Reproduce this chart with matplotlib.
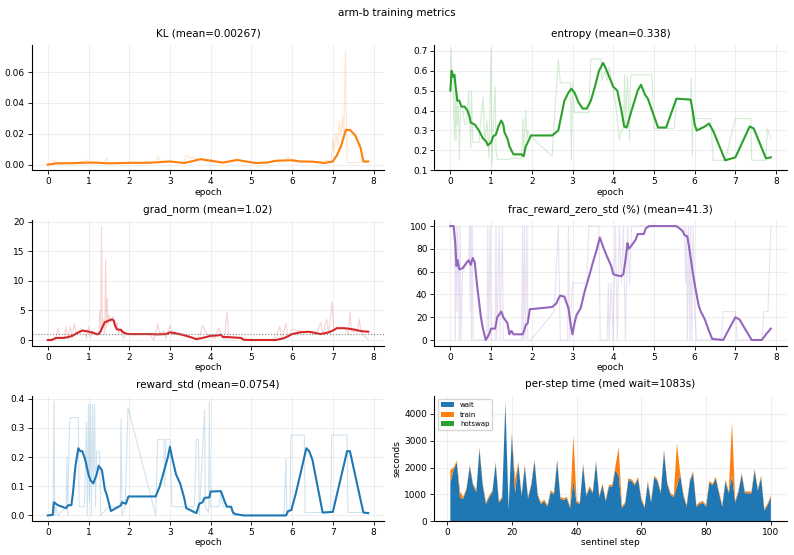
import numpy as np
import matplotlib
matplotlib.use("Agg")
import matplotlib.pyplot as plt
from matplotlib.ticker import MultipleLocator

# ---- data (epoch, value) ----
kl_raw = [(0.0,0.0),(0.1,0.001),(0.15,0.003),(0.2,0.001),(0.35,0.0015),(0.5,0.0012),(0.7,0.001),
          (0.85,0.0018),(0.95,0.003),(1.0,0.001),(1.1,0.002),(1.2,0.0015),(1.35,0.0008),(1.45,0.004),
          (1.5,0.001),(1.7,0.001),(1.9,0.0012),(2.1,0.0015),(2.3,0.0012),(2.5,0.0015),(2.65,0.0015),
          (2.7,0.005),(2.8,0.002),(3.0,0.0025),(3.2,0.0015),(3.35,0.001),(3.4,0.006),(3.5,0.004),
          (3.6,0.005),(3.7,0.003),(3.8,0.004),(3.9,0.002),(4.0,0.0035),(4.1,0.002),(4.3,0.001),
          (4.5,0.002),(4.6,0.0035),(4.7,0.0025),(4.9,0.002),(5.1,0.0008),(5.3,0.001),(5.5,0.0025),
          (5.7,0.002),(5.85,0.003),(5.9,0.005),(6.0,0.002),(6.2,0.0025),(6.5,0.002),(6.7,0.0015),
          (6.85,0.003),(6.95,0.001),(7.0,0.017),(7.03,0.008),(7.08,0.021),(7.12,0.012),(7.16,0.028),
          (7.2,0.018),(7.24,0.032),(7.27,0.02),(7.31,0.074),(7.35,0.0012),(7.5,0.0012),(7.7,0.0015),
          (7.87,0.002)]
kl_smooth = [(0.0,0.0),(0.1,0.0003),(0.2,0.0008),(0.6,0.0009),(1.0,0.0013),(1.2,0.0012),(1.5,0.0008),
             (2.0,0.0011),(2.5,0.0012),(3.0,0.002),(3.35,0.001),(3.75,0.0035),(4.0,0.0025),(4.3,0.0013),
             (4.65,0.003),(5.1,0.001),(5.4,0.0013),(5.6,0.0025),(6.0,0.0028),(6.2,0.002),(6.5,0.0019),
             (6.8,0.001),(7.0,0.002),(7.1,0.006),(7.2,0.012),(7.32,0.0225),(7.42,0.0225),(7.55,0.019),
             (7.68,0.011),(7.75,0.002),(7.87,0.002)]

ent_raw = [(0.0,0.5),(0.02,0.71),(0.04,0.55),(0.06,0.6),(0.08,0.42),(0.1,0.25),(0.12,0.5),(0.14,0.25),
           (0.16,0.5),(0.18,0.33),(0.2,0.42),(0.22,0.15),(0.25,0.42),(0.3,0.42),(0.35,0.33),(0.4,0.33),
           (0.45,0.5),(0.5,0.21),(0.52,0.5),(0.55,0.24),(0.6,0.24),(0.7,0.24),(0.8,0.47),(0.85,0.24),
           (0.9,0.35),(0.95,0.16),(1.0,0.71),(1.02,0.12),(1.05,0.3),(1.1,0.52),(1.12,0.2),(1.15,0.155),
           (1.3,0.155),(1.45,0.155),(1.5,0.16),(1.75,0.16),(1.78,0.36),(1.8,0.2),(1.85,0.4),(1.88,0.25),
           (1.9,0.3),(1.95,0.275),(2.5,0.17),(2.65,0.66),(2.7,0.54),(2.95,0.54),(2.97,0.15),(3.0,0.54),
           (3.02,0.45),(3.05,0.39),(3.4,0.39),(3.45,0.66),(3.7,0.66),(3.72,0.55),(3.8,0.6),(3.85,0.55),
           (3.9,0.62),(4.0,0.5),(4.05,0.45),(4.1,0.35),(4.15,0.25),(4.2,0.3),(4.25,0.31),(4.28,0.58),
           (4.3,0.31),(4.35,0.57),(4.4,0.25),(4.42,0.55),(4.45,0.58),(4.5,0.58),(4.95,0.58),(5.0,0.31),
           (5.5,0.31),(5.55,0.46),(5.9,0.46),(5.92,0.56),(5.94,0.17),(5.96,0.4),(6.0,0.36),(6.4,0.36),
           (6.45,0.15),(6.75,0.15),(7.0,0.36),(7.38,0.36),(7.4,0.15),(7.75,0.15),(7.78,0.31),(7.87,0.26)]
ent_smooth = [(0.0,0.5),(0.03,0.6),(0.07,0.57),(0.1,0.58),(0.13,0.52),(0.17,0.45),(0.22,0.45),
              (0.27,0.42),(0.35,0.42),(0.42,0.4),(0.47,0.37),(0.5,0.34),(0.6,0.33),(0.7,0.3),
              (0.8,0.26),(0.88,0.245),(0.92,0.225),(1.0,0.24),(1.05,0.27),(1.12,0.28),(1.18,0.32),
              (1.25,0.35),(1.3,0.33),(1.33,0.29),(1.4,0.26),(1.45,0.22),(1.5,0.2),(1.55,0.18),
              (1.75,0.18),(1.8,0.17),(1.85,0.22),(1.9,0.24),(1.98,0.275),(2.5,0.275),(2.65,0.3),
              (2.8,0.45),(2.9,0.49),(2.97,0.51),(3.05,0.49),(3.15,0.44),(3.25,0.41),(3.35,0.41),
              (3.45,0.45),(3.55,0.52),(3.65,0.6),(3.75,0.64),(3.8,0.62),(3.9,0.57),(4.0,0.52),
              (4.1,0.5),(4.2,0.4),(4.27,0.32),(4.33,0.315),(4.45,0.4),(4.6,0.5),(4.68,0.53),
              (4.78,0.48),(4.85,0.46),(5.1,0.315),(5.3,0.315),(5.55,0.46),(5.9,0.455),(5.95,0.4),
              (6.0,0.33),(6.05,0.3),(6.15,0.31),(6.25,0.32),(6.35,0.335),(6.45,0.3),(6.75,0.15),
              (7.0,0.165),(7.35,0.32),(7.45,0.31),(7.75,0.16),(7.87,0.165)]

grad_raw = [(0,0),(0.1,0.1),(0.2,0.3),(0.25,2.0),(0.3,0.3),(0.4,0.5),(0.45,2.2),(0.5,0.1),(0.55,2.3),
            (0.6,0.4),(0.65,2.8),(0.7,1.0),(0.8,1.9),(0.9,1.5),(0.95,0.3),(1.0,2.2),(1.05,0.5),
            (1.1,1.6),(1.2,0.8),(1.25,1.0),(1.28,5.0),(1.3,1.5),(1.32,19.3),(1.34,2.0),(1.37,3.5),
            (1.4,1.0),(1.42,13.6),(1.44,2.0),(1.46,7.0),(1.48,2.5),(1.5,4.2),(1.55,3.0),(1.6,4.0),
            (1.65,2.0),(1.7,3.0),(1.75,1.0),(1.8,2.0),(1.85,0.2),(1.95,1.0),(2.5,1.0),(2.6,0.0),
            (2.7,2.7),(2.75,1.0),(2.85,1.5),(2.9,0.2),(3.0,2.5),(3.05,1.0),(3.3,0.8),(3.5,0.5),
            (3.65,0.1),(3.75,1.2),(3.8,2.5),(3.9,1.0),(4.0,0.8),(4.1,0.2),(4.2,2.1),(4.3,0.3),
            (4.35,1.0),(4.4,4.8),(4.45,0.5),(4.75,0.3),(4.8,0.0),(5.5,0.0),(5.6,0.5),(5.7,2.3),
            (5.75,0.3),(5.85,2.8),(5.9,0.5),(6.0,1.8),(6.2,1.5),(6.4,1.3),(6.6,1.0),(6.7,3.0),
            (6.75,1.0),(6.85,3.5),(6.9,1.2),(6.98,6.5),(7.02,1.8),(7.1,2.2),(7.3,2.0),(7.38,1.0),
            (7.42,4.8),(7.46,1.5),(7.6,1.3),(7.65,3.5),(7.7,1.2),(7.87,0.0)]
grad_smooth = [(0,0),(0.1,0.0),(0.2,0.35),(0.4,0.35),(0.5,0.5),(0.6,0.7),(0.7,1.1),(0.85,1.6),
               (0.95,1.5),(1.1,1.25),(1.2,1.0),(1.25,1.0),(1.3,1.5),(1.35,2.3),(1.4,3.0),(1.5,3.3),
               (1.57,3.5),(1.62,3.3),(1.65,2.5),(1.7,1.8),(1.8,1.7),(1.85,1.3),(1.95,1.05),(2.0,1.0),
               (2.5,1.0),(2.7,0.95),(2.9,1.0),(3.0,1.3),(3.1,1.2),(3.3,0.9),(3.5,0.5),(3.65,0.15),
               (3.8,0.35),(4.0,0.7),(4.2,0.8),(4.25,0.9),(4.3,0.5),(4.4,0.5),(4.75,0.35),(4.8,0.05),
               (5.0,0.0),(5.6,0.0),(5.8,0.3),(6.0,1.0),(6.2,1.3),(6.4,1.4),(6.5,1.3),(6.7,1.0),
               (6.9,1.3),(7.0,1.6),(7.1,2.0),(7.3,2.0),(7.5,1.8),(7.7,1.5),(7.87,1.4)]
grad_mean = 1.02

frac_raw = [(0,100),(0.1,100),(0.12,0),(0.14,100),(0.16,25),(0.18,100),(0.2,60),(0.22,0),(0.24,100),
            (0.26,0),(0.3,60),(0.45,70),(0.47,100),(0.49,25),(0.5,100),(0.52,0),(0.54,100),(0.56,0),
            (0.9,0),(0.92,100),(0.94,0),(0.98,100),(1.0,0),(1.1,0),(1.12,100),(1.14,0),(1.2,100),
            (1.22,0),(1.28,100),(1.3,0),(1.75,0),(1.77,100),(1.79,0),(1.82,100),(1.84,0),(1.88,100),
            (1.9,0),(1.98,0),(2.55,25),(2.65,100),(2.7,0),(2.88,0),(2.9,100),(2.93,0),(3.0,50),
            (3.05,50),(3.35,50),(3.4,100),(3.65,100),(3.68,0),(3.85,0),(3.88,50),(3.9,0),(3.95,50),
            (4.0,0),(4.05,100),(4.1,0),(4.15,100),(4.2,50),(4.25,100),(4.3,0),(4.35,100),(4.4,50),
            (4.45,100),(5.75,100),(5.78,50),(5.8,100),(5.82,0),(5.85,100),(5.88,0),(5.9,100),
            (5.93,0),(5.96,100),(6.0,25),(6.05,0),(6.65,0),(6.7,25),(7.0,25),(7.05,0),(7.65,0),
            (7.7,25),(7.8,25),(7.87,100)]
frac_smooth = [(0,100),(0.08,100),(0.12,85),(0.15,65),(0.18,70),(0.22,62),(0.3,63),(0.4,68),(0.45,70),
               (0.5,66),(0.55,72),(0.6,68),(0.65,50),(0.7,35),(0.75,20),(0.8,10),(0.87,0),(0.95,5),
               (1.0,10),(1.1,10),(1.15,20),(1.25,25),(1.3,20),(1.4,15),(1.45,5),(1.5,8),(1.55,5),
               (1.78,5),(1.85,13),(1.9,15),(1.95,27),(2.5,29),(2.6,32),(2.65,36),(2.7,39),(2.8,38),
               (2.9,28),(2.95,15),(3.0,5),(3.05,15),(3.1,22),(3.2,28),(3.3,43),(3.4,55),(3.5,68),
               (3.6,80),(3.67,90),(3.75,82),(3.85,73),(3.95,65),(4.0,58),(4.05,57),(4.2,56),(4.25,58),
               (4.3,70),(4.35,85),(4.38,80),(4.45,83),(4.55,88),(4.6,93),(4.75,93),(4.8,98),(4.88,100),
               (5.55,100),(5.7,96),(5.75,92),(5.82,91),(5.87,80),(5.95,60),(6.02,45),(6.1,30),
               (6.15,25),(6.25,18),(6.35,8),(6.43,1),(6.7,0),(7.0,20),(7.1,18),(7.4,0),(7.65,0),
               (7.75,5),(7.87,10)]

rstd_raw = [(0,0),(0.13,0),(0.15,0.39),(0.17,0.0),(0.2,0.03),(0.25,0.0),(0.45,0.03),(0.47,0.2),(0.49,0.0),
            (0.53,0.3),(0.55,0.335),(0.75,0.335),(0.77,0.03),(0.9,0.03),(0.95,0.32),(0.97,0.0),
            (1.0,0.38),(1.02,0.05),(1.05,0.38),(1.07,0.0),(1.1,0.38),(1.12,0.1),(1.15,0.38),(1.17,0.03),
            (1.2,0.22),(1.27,0.22),(1.3,0.0),(1.5,0.03),(1.78,0.03),(1.8,0.33),(1.82,0.0),(1.9,0.03),
            (1.97,0.37),(2.65,0.0),(2.7,0.26),(2.85,0.26),(2.87,0.1),(2.9,0.26),(3.0,0.26),(3.05,0.03),
            (3.6,0.03),(3.65,0.26),(3.7,0.26),(3.72,0.0),(3.85,0.36),(3.87,0.03),(3.95,0.01),
            (3.97,0.39),(3.99,0.03),(4.2,0.03),(4.25,0.08),(4.3,0.03),(4.5,0.03),(4.55,0.0),(5.8,0.0),
            (5.85,0.195),(5.87,0.0),(5.95,0.02),(5.97,0.275),(6.3,0.275),(6.32,0.01),(6.95,0.01),
            (6.97,0.275),(7.35,0.275),(7.37,0.01),(7.87,0.01)]
rstd_smooth = [(0,0.0),(0.12,0.002),(0.15,0.045),(0.2,0.04),(0.25,0.035),(0.45,0.025),(0.5,0.035),
               (0.58,0.035),(0.62,0.08),(0.68,0.17),(0.75,0.23),(0.8,0.22),(0.85,0.22),(0.92,0.19),
               (1.0,0.14),(1.05,0.12),(1.12,0.11),(1.2,0.14),(1.25,0.17),(1.33,0.155),(1.4,0.09),
               (1.45,0.07),(1.55,0.015),(1.8,0.035),(1.82,0.045),(1.92,0.04),(1.98,0.065),(2.65,0.065),
               (2.75,0.1),(2.85,0.15),(2.95,0.2),(3.0,0.235),(3.05,0.2),(3.15,0.14),(3.25,0.11),
               (3.35,0.06),(3.4,0.025),(3.65,0.008),(3.72,0.04),(3.8,0.045),(3.85,0.06),(3.97,0.062),
               (4.0,0.082),(4.25,0.083),(4.3,0.065),(4.35,0.045),(4.4,0.03),(4.5,0.03),(4.55,0.01),
               (4.6,0.005),(4.8,0.0),(5.85,0.0),(5.9,0.015),(5.98,0.018),(6.1,0.08),(6.2,0.14),
               (6.35,0.23),(6.42,0.22),(6.5,0.19),(6.75,0.01),(7.0,0.012),(7.35,0.22),(7.42,0.22),
               (7.75,0.01),(7.87,0.008)]

steps = np.arange(1, 101)
wait_s = [1450,1900,2190,860,850,1190,2040,1340,1090,2690,1340,640,890,1090,2140,690,840,4390,440,3240,
          1050,2140,940,2040,840,1340,2240,940,640,740,540,1090,990,2240,840,790,840,490,1500,690,
          640,2090,940,1240,1040,2190,890,1340,740,1290,1290,1900,1700,490,640,1540,1490,1340,1590,790,
          490,1440,690,1640,1490,1040,2590,1390,990,890,1300,1740,940,540,1490,1790,540,640,690,540,
          1440,1340,1590,1040,540,1490,1040,1700,690,1090,1740,1040,1040,1040,1890,1140,1640,390,590,890]
train_s = [450,100,60,240,50,60,60,60,60,60,60,60,60,60,60,60,60,60,60,60,
           500,60,60,60,60,60,60,60,60,60,60,60,60,60,60,60,60,60,1700,60,
           60,60,60,60,60,60,60,60,60,60,60,150,1050,60,60,60,60,60,60,60,
           60,60,60,60,60,60,60,60,60,60,1600,60,60,60,60,60,60,60,60,60,
           60,60,60,60,60,60,60,2000,60,60,60,60,60,60,60,60,60,60,60,60]
hotswap_s = [5] * 100
med_wait = 1083

# ---- plotting ----
plt.rcParams['font.family'] = 'DejaVu Sans'
plt.rcParams['font.size'] = 6.5

fig, axes = plt.subplots(3, 2, figsize=(7.94, 5.55), dpi=100)
fig.subplots_adjust(left=0.040, right=0.991, bottom=0.061, top=0.919, wspace=0.142, hspace=0.40)
fig.suptitle("arm-b training metrics", fontsize=7.5, y=0.985)


def line_panel(ax, raw, smooth, color, title):
    r = np.array(raw)
    s = np.array(smooth)
    ax.plot(r[:, 0], r[:, 1], color=color, alpha=0.2, lw=0.8)
    ax.plot(s[:, 0], s[:, 1], color=color, lw=1.5)
    ax.set_title(title, fontsize=7.5)
    ax.set_xlabel("epoch", fontsize=6.5, labelpad=1)


def style(ax):
    ax.set_axisbelow(True)
    ax.grid(True, color="#dddddd", lw=0.5, alpha=0.7)
    ax.spines['top'].set_visible(False)
    ax.spines['right'].set_visible(False)
    ax.tick_params(labelsize=6.5, length=3, width=0.6, pad=2)
    for sp in ('left', 'bottom'):
        ax.spines[sp].set_linewidth(0.8)


line_panel(axes[0, 0], kl_raw, kl_smooth, "#ff7f0e", "KL (mean=0.00267)")
line_panel(axes[0, 1], ent_raw, ent_smooth, "#2ca02c", "entropy (mean=0.338)")
axes[0, 1].set_ylim(0.1, 0.73)
axes[0, 1].yaxis.set_major_locator(MultipleLocator(0.1))
line_panel(axes[1, 0], grad_raw, grad_smooth, "#d62728", "grad_norm (mean=1.02)")
axes[1, 0].axhline(grad_mean, color="gray", ls=":", lw=0.8)
line_panel(axes[1, 1], frac_raw, frac_smooth, "#9467bd", "frac_reward_zero_std (%) (mean=41.3)")
line_panel(axes[2, 0], rstd_raw, rstd_smooth, "#1f77b4", "reward_std (mean=0.0754)")

ax = axes[2, 1]
ax.stackplot(steps, wait_s, train_s, hotswap_s, labels=["wait", "train", "hotswap"],
             colors=["#1f77b4", "#ff7f0e", "#2ca02c"])
ax.set_title(f"per-step time (med wait={med_wait}s)", fontsize=7.5)
ax.set_xlabel("sentinel step", fontsize=6.5, labelpad=1)
ax.set_ylabel("seconds", fontsize=6.5, labelpad=2)
ax.legend(loc="upper left", fontsize=5, framealpha=0.8)

for a in axes.flat:
    style(a)

fig.savefig("out.png", dpi=100)
